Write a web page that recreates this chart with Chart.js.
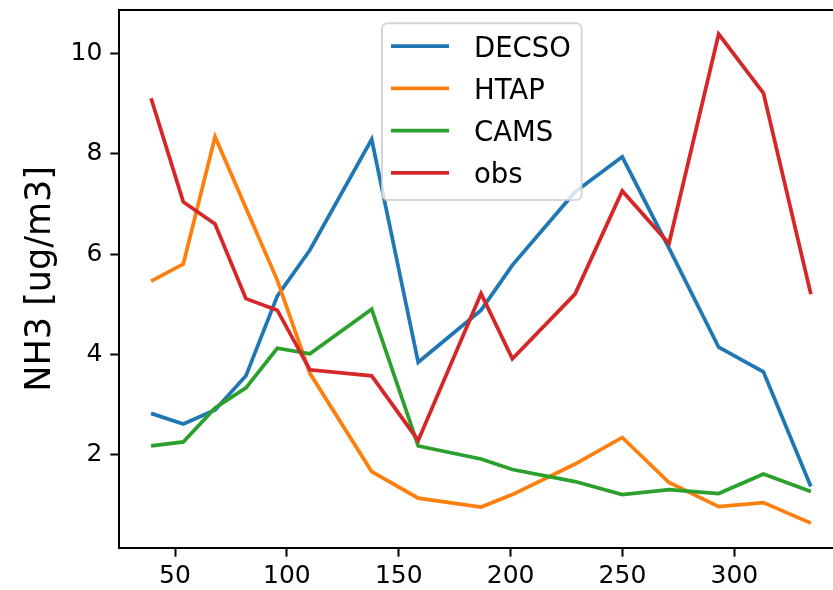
<!DOCTYPE html>
<html>
<head>
<meta charset="utf-8">
<script src="https://cdn.jsdelivr.net/npm/chart.js@4/dist/chart.umd.min.js"></script>
<style>
  html, body { margin: 0; padding: 0; background: #ffffff; overflow: hidden; }
  #wrap { width: 833px; height: 590px; position: relative; }
</style>
</head>
<body>
<div id="wrap"><canvas id="c" width="833" height="590"></canvas></div>
<script>
// Station distance along the x axis
const distance = [39.3, 53.7, 67.9, 81.7, 95.7, 110.3, 137.9, 158.7, 186.8, 200.8, 228.8, 249.9, 270.8, 293.0, 313.0, 334.2];

// NH3 concentrations [ug/m3]
const decso = [2.82, 2.61, 2.89, 3.57, 5.16, 6.08, 8.29, 3.84, 4.88, 5.78, 7.24, 7.94, 6.12, 4.14, 3.65, 1.36];
const htap  = [5.46, 5.80, 8.34, 6.92, 5.48, 3.62, 1.66, 1.13, 0.95, 1.20, 1.81, 2.34, 1.44, 0.96, 1.04, 0.63];
const cams  = [2.17, 2.25, 2.93, 3.33, 4.12, 4.01, 4.90, 2.17, 1.91, 1.70, 1.46, 1.20, 1.30, 1.22, 1.61, 1.26];
const obs   = [9.11, 7.04, 6.60, 5.11, 4.88, 3.69, 3.57, 2.28, 5.21, 3.91, 5.20, 7.26, 6.21, 10.39, 9.21, 5.20];

const seriesNames  = ['DECSO', 'HTAP', 'CAMS', 'obs'];
const seriesValues = [decso, htap, cams, obs];
const seriesColors = ['#1f77b4', '#ff7f0e', '#2ca02c', '#d62728'];

const xTicks = [50, 100, 150, 200, 250, 300];
const yTicks = [2, 4, 6, 8, 10];
const yTitle = 'NH3 [ug/m3]';

const FONT = "'DejaVu Sans', 'Liberation Sans', sans-serif";
const LINE_W = 3.75;

const datasets = seriesNames.map((name, i) => ({
  label: name,
  data: distance.map((x, k) => ({ x: x, y: seriesValues[i][k] })),
  borderColor: seriesColors[i],
  backgroundColor: seriesColors[i],
  borderWidth: LINE_W,
  pointRadius: 0,
  tension: 0,
  fill: false,
  order: seriesNames.length - i   // later series painted on top
}));

// Top spine of the axes frame
const topSpine = {
  id: 'topSpine',
  afterDraw(chart) {
    const { ctx, chartArea } = chart;
    ctx.save();
    ctx.strokeStyle = '#000';
    ctx.lineWidth = 2;
    ctx.beginPath();
    ctx.moveTo(chartArea.left - 1, chartArea.top);
    ctx.lineTo(chartArea.right, chartArea.top);
    ctx.stroke();
    ctx.restore();
  }
};

// Framed legend inside the plot, upper centre
const boxLegend = {
  id: 'boxLegend',
  afterDatasetsDraw(chart) {
    const { ctx, chartArea } = chart;
    const left = chartArea.left + 262.7;
    const top = chartArea.top + 13.3;
    const w = 199.7, h = 176.7, r = 5.5;
    ctx.save();
    ctx.beginPath();
    ctx.moveTo(left + r, top);
    ctx.lineTo(left + w - r, top);
    ctx.arcTo(left + w, top, left + w, top + r, r);
    ctx.lineTo(left + w, top + h - r);
    ctx.arcTo(left + w, top + h, left + w - r, top + h, r);
    ctx.lineTo(left + r, top + h);
    ctx.arcTo(left, top + h, left, top + h - r, r);
    ctx.lineTo(left, top + r);
    ctx.arcTo(left, top, left + r, top, r);
    ctx.closePath();
    ctx.fillStyle = 'rgba(255,255,255,0.8)';
    ctx.fill();
    ctx.strokeStyle = 'rgba(204,204,204,0.8)';
    ctx.lineWidth = 2;
    ctx.stroke();

    ctx.font = '27.5px ' + FONT;
    ctx.textAlign = 'left';
    ctx.textBaseline = 'alphabetic';
    chart.data.datasets.forEach((ds, i) => {
      const rowY = top + 22.7 + i * 42.3;
      ctx.strokeStyle = ds.borderColor;
      ctx.lineWidth = LINE_W;
      ctx.beginPath();
      ctx.moveTo(left + 9, rowY);
      ctx.lineTo(left + 67, rowY);
      ctx.stroke();
      ctx.fillStyle = '#000';
      ctx.fillText(ds.label, left + 92, rowY + 10.5);
    });
    ctx.restore();
  }
};

new Chart(document.getElementById('c'), {
  type: 'line',
  data: { datasets: datasets },
  options: {
    responsive: false,
    animation: false,
    devicePixelRatio: 1,
    layout: { padding: { top: 10, right: 0, bottom: 0, left: 0 } },
    plugins: {
      legend: { display: false },
      tooltip: { enabled: false }
    },
    scales: {
      x: {
        type: 'linear',
        min: 25.1,
        max: 344.1,
        afterBuildTicks(scale) { scale.ticks = xTicks.map(v => ({ value: v })); },
        afterFit(scale) {
          scale.height = 42.3;
          scale.paddingLeft = 0;
          scale.paddingRight = 0;
        },
        grid: {
          drawOnChartArea: false,
          drawTicks: true,
          tickLength: 9,
          tickWidth: 2,
          tickColor: '#000'
        },
        border: { display: true, color: '#000', width: 2 },
        ticks: {
          autoSkip: false,
          maxRotation: 0,
          padding: 5,
          color: '#000',
          font: { family: FONT, size: 25 }
        }
      },
      y: {
        type: 'linear',
        min: 0.14,
        max: 10.87,
        afterBuildTicks(scale) { scale.ticks = yTicks.map(v => ({ value: v })); },
        afterFit(scale) {
          scale.width = 119.3;
          scale.paddingTop = 0;
          scale.paddingBottom = 0;
        },
        grid: {
          drawOnChartArea: false,
          drawTicks: true,
          tickLength: 9,
          tickWidth: 2,
          tickColor: '#000'
        },
        border: { display: true, color: '#000', width: 2 },
        ticks: {
          autoSkip: false,
          padding: 8,
          color: '#000',
          font: { family: FONT, size: 25 }
        },
        title: {
          display: true,
          text: yTitle,
          color: '#000',
          padding: { top: 20, bottom: 0 },
          font: { family: FONT, size: 35 }
        }
      }
    }
  },
  plugins: [boxLegend, topSpine]
});
</script>
</body>
</html>
